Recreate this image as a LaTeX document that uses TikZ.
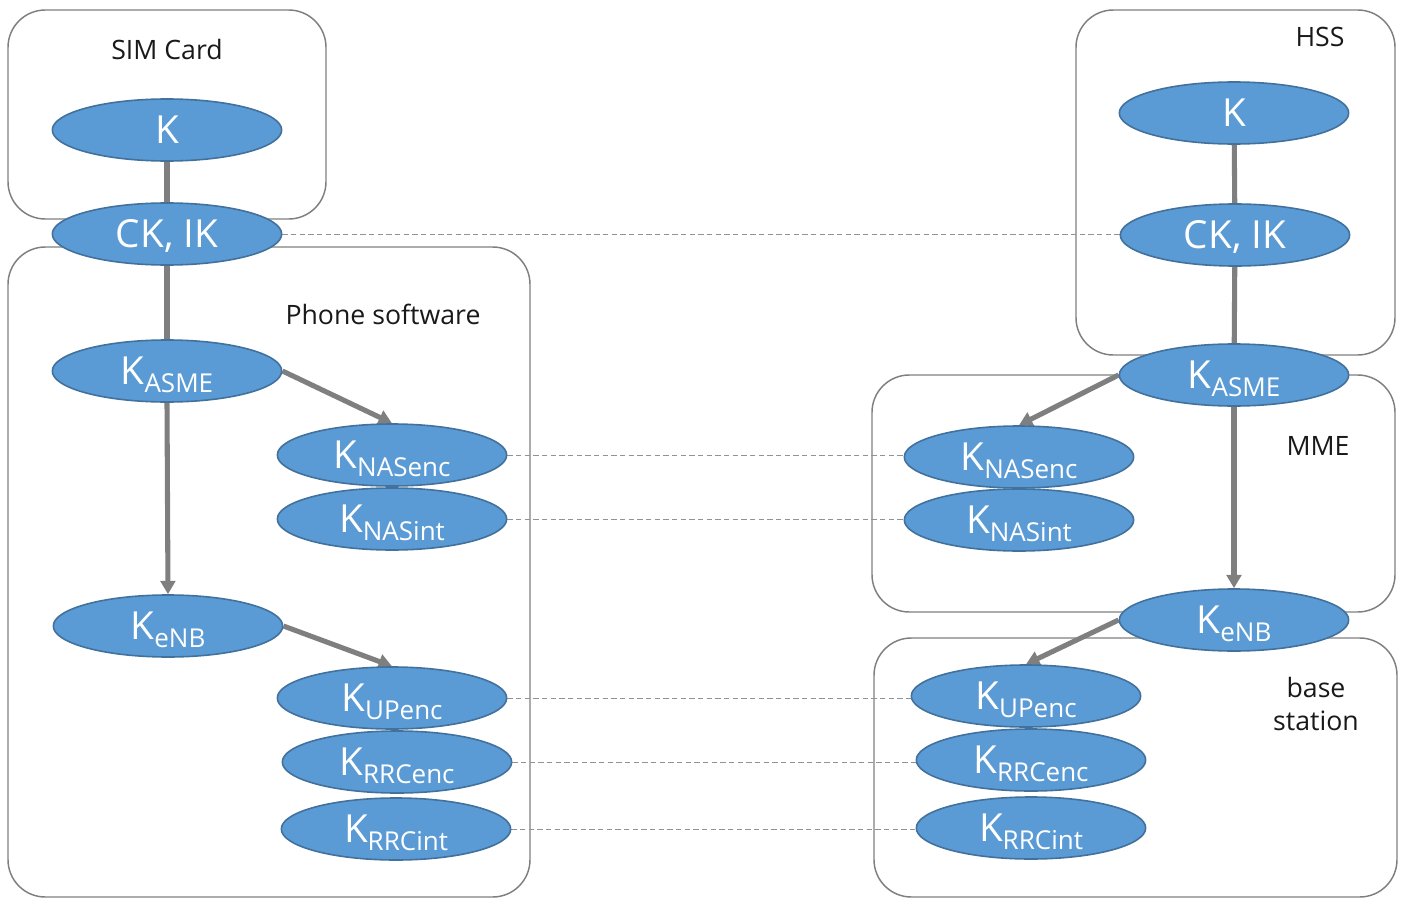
\documentclass[tikz,border=0pt]{standalone}
\usepackage{fontspec}
\setmainfont{Open Sans}
\usetikzlibrary{shapes.geometric,arrows.meta}
\definecolor{keyfill}{HTML}{5B9BD5}
\definecolor{keyedge}{HTML}{41719C}
\definecolor{linegray}{HTML}{7F7F7F}
\pgfdeclarelayer{bg}
\pgfsetlayers{bg,main}
% key name with a lowered subscript that does not shift the centring
\newcommand{\keysub}[1]{K\raisebox{-6pt}{\fontsize{19.5pt}{21pt}\selectfont #1}}
\tikzset{
  keynode/.style={ellipse, draw=keyedge, line width=1.2pt, fill=keyfill,
    text=white, minimum width=172pt, minimum height=46.5pt, inner sep=0pt,
    font=\fontsize{29pt}{30pt}\selectfont, text height=20.7pt, text depth=0pt},
  group/.style={draw=linegray, line width=1.1pt, rounded corners=28pt},
  link/.style={draw=linegray, line width=3.8pt},
  derive/.style={link, -{Triangle[length=10pt,width=11pt]}},
  share/.style={draw=linegray!85, line width=0.7pt, dash pattern=on 4pt off 2.5pt},
  title/.style={font=\fontsize{20pt}{25pt}\selectfont, text=black!90, align=center}
}
\begin{document}
\begin{tikzpicture}[x=0.75pt,y=-0.75pt]
\useasboundingbox (0,0) rectangle (1403,899);

% group labels
\node[title] (tsim)   at (167,50)  {SIM Card};
\node[title] (tphone) at (383,314) {Phone software};
\node[title] (thss)   at (1320,37) {HSS};
\node[title] (tmme)   at (1318,446) {MME};
\node[title] (tbs)    at (1316,704) {base\\station};

% user side keys
\node[keynode] (uK)    at (167,130) {K};
\node[keynode] (uCKIK) at (167,234) {CK, IK};
\node[keynode] (uASME) at (167,371) {\keysub{ASME}};
\node[keynode] (uNASe) at (392,455) {\keysub{NASenc}};
\node[keynode] (uNASi) at (392,519) {\keysub{NASint}};
\node[keynode] (ueNB)  at (168,626) {\keysub{eNB}};
\node[keynode] (uUPe)  at (392,698) {\keysub{UPenc}};
\node[keynode] (uRRCe) at (397,762) {\keysub{RRCenc}};
\node[keynode] (uRRCi) at (396,829) {\keysub{RRCint}};

% network side keys
\node[keynode] (nK)    at (1234,113) {K};
\node[keynode] (nCKIK) at (1235,235) {CK, IK};
\node[keynode] (nASME) at (1234,375) {\keysub{ASME}};
\node[keynode] (nNASe) at (1019,457) {\keysub{NASenc}};
\node[keynode] (nNASi) at (1019,520) {\keysub{NASint}};
\node[keynode] (neNB)  at (1234,620) {\keysub{eNB}};
\node[keynode] (nUPe)  at (1026,696) {\keysub{UPenc}};
\node[keynode] (nRRCe) at (1031,760) {\keysub{RRCenc}};
\node[keynode] (nRRCi) at (1031,828) {\keysub{RRCint}};

\begin{pgfonlayer}{bg}
  % containers
  \draw[group] (8,10) rectangle (326,219);
  \draw[group] (8,247) rectangle (530,897);
  \draw[group] (1076,10) rectangle (1395,355);
  \draw[group] (872,375) rectangle (1395,612);
  \draw[group] (874,638) rectangle (1397,897);

  % derivation chains
  \draw[link] (uK) -- (uCKIK);
  \draw[link] (uCKIK) -- (uASME);
  \draw[derive] (uASME.south) -- (ueNB.north);
  \draw[derive] (uASME.east) -- (uNASe.north);
  \draw[derive] (ueNB.east) -- (uUPe.north);

  \draw[link] (nK) -- (nCKIK);
  \draw[link] (nCKIK) -- (nASME);
  \draw[derive] (nASME.south) -- (neNB.north);
  \draw[derive] (nASME.west) -- (nNASe.north);
  \draw[derive] (neNB.west) -- (nUPe.north);

  % shared keys
  \draw[share] (uCKIK.east) -- (nCKIK.west |- uCKIK.east);
  \draw[share] (uNASe.east) -- (nNASe.west |- uNASe.east);
  \draw[share] (uNASi.east) -- (nNASi.west |- uNASi.east);
  \draw[share] (uUPe.east)  -- (nUPe.west  |- uUPe.east);
  \draw[share] (uRRCe.east) -- (nRRCe.west |- uRRCe.east);
  \draw[share] (uRRCi.east) -- (nRRCi.west |- uRRCi.east);
\end{pgfonlayer}
\end{tikzpicture}
\end{document}
